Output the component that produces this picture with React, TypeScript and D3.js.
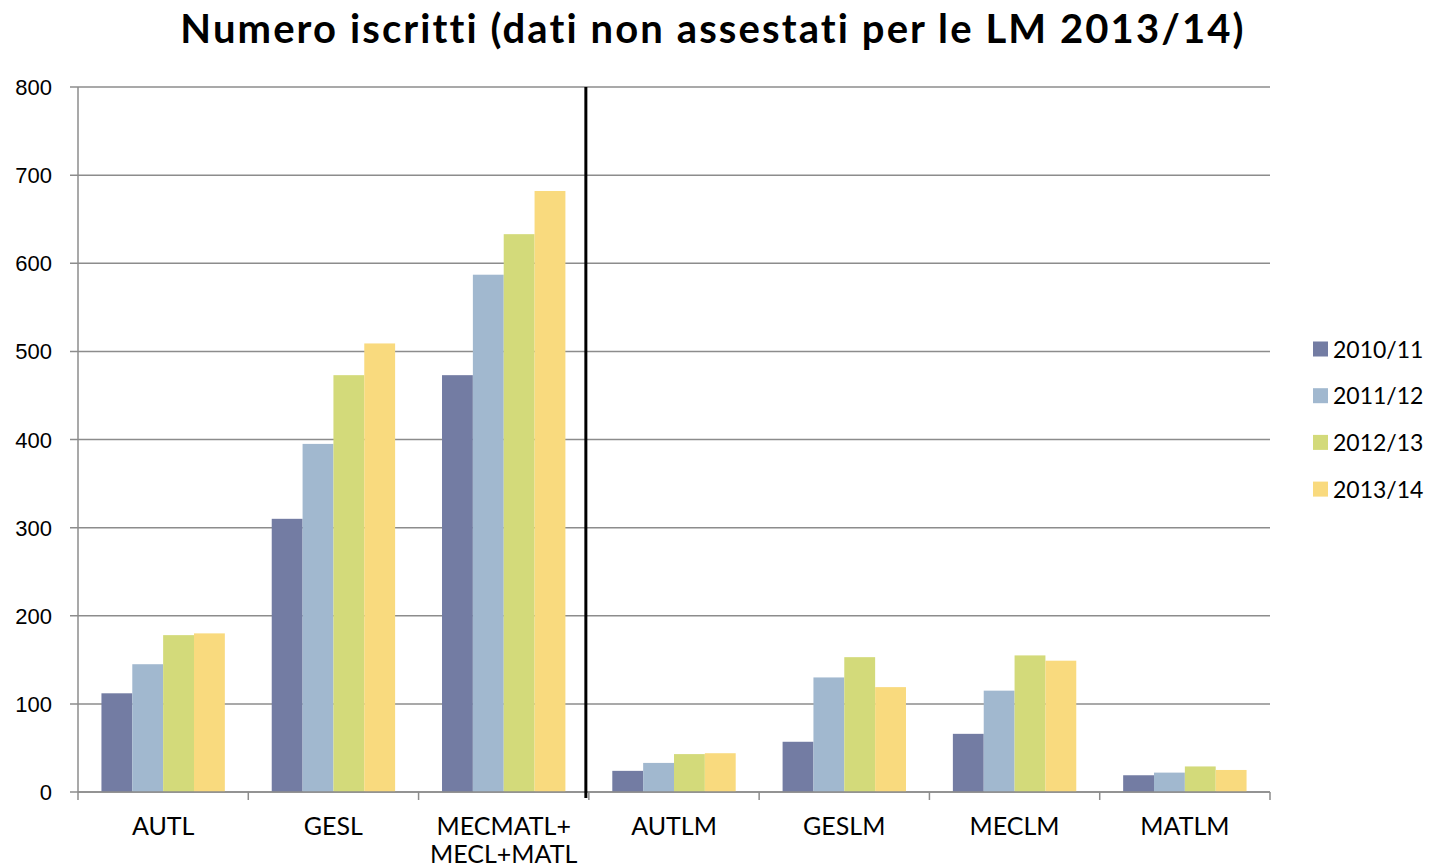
import React, { useEffect, useRef } from 'react';
import * as d3 from 'd3';

// categorie (corsi) e serie (anni accademici)
const categories = ['AUTL', 'GESL', 'MECMATL+\nMECL+MATL', 'AUTLM', 'GESLM', 'MECLM', 'MATLM'];
const years = ['2010/11', '2011/12', '2012/13', '2013/14'];
const colors = ['#737ca3', '#a1b8cf', '#d3da7a', '#f9da7e'];

const v2010 = [112, 310, 473, 24, 57, 66, 19];
const v2011 = [145, 395, 587, 33, 130, 115, 22];
const v2012 = [178, 473, 633, 43, 153, 155, 29];
const v2013 = [180, 509, 682, 44, 119, 149, 25];

const yTicks = [0, 100, 200, 300, 400, 500, 600, 700, 800];

const W = 1429;
const H = 868;
const margin = { top: 87, left: 78, right: 159, bottom: 76 };
const font = 'Lato, "Open Sans", sans-serif';

const App = () => {
    const svgRef = useRef<SVGSVGElement>(null);

    useEffect(() => {
        const svg = d3.select(svgRef.current);
        svg.selectAll('*').remove();

        const series = [v2010, v2011, v2012, v2013];
        const x0 = d3.scaleBand().domain(categories).range([margin.left, W - margin.right]).padding(0);
        const x1 = d3.scaleBand().domain(years).range([0, x0.bandwidth()]).paddingInner(0).paddingOuter(0.76);
        const y = d3.scaleLinear().domain([0, 800]).range([H - margin.bottom, margin.top]);

        // titolo
        svg.append('text')
            .attr('x', 713).attr('y', 43)
            .attr('text-anchor', 'middle')
            .style('font-family', font)
            .style('font-weight', 'bold')
            .style('font-size', '40px')
            .style('letter-spacing', '2.1px')
            .style('font-variant-ligatures', 'none')
            .text('Numero iscritti (dati non assestati per le LM 2013/14)');

        // griglia
        svg.append('g')
            .selectAll('line')
            .data(yTicks)
            .join('line')
            .attr('x1', margin.left - 8).attr('x2', W - margin.right)
            .attr('y1', d => y(d)).attr('y2', d => y(d))
            .attr('stroke', '#8c8c8c').attr('stroke-width', 1.5);

        // asse y
        svg.append('line')
            .attr('x1', margin.left).attr('x2', margin.left)
            .attr('y1', y(800)).attr('y2', y(0))
            .attr('stroke', '#8c8c8c').attr('stroke-width', 1.5);

        svg.append('g')
            .selectAll('text')
            .data(yTicks)
            .join('text')
            .attr('x', 52).attr('y', d => y(d) + 8)
            .attr('text-anchor', 'end')
            .style('font-family', '"Liberation Sans", Arial, sans-serif')
            .style('font-size', '22px')
            .text(d => d);

        // barre
        const groups = svg.append('g')
            .selectAll('g')
            .data(categories)
            .join('g')
            .attr('transform', d => `translate(${x0(d)},0)`);

        groups.selectAll('rect')
            .data((d, i) => years.map((yr, j) => ({ yr, v: series[j][i], c: colors[j] })))
            .join('rect')
            .attr('x', d => x1(d.yr)!)
            .attr('width', x1.bandwidth())
            .attr('y', d => y(d.v))
            .attr('height', d => y(0) - y(d.v))
            .attr('fill', d => d.c);

        // asse x
        svg.append('line')
            .attr('x1', margin.left).attr('x2', W - margin.right)
            .attr('y1', y(0)).attr('y2', y(0))
            .attr('stroke', '#8c8c8c').attr('stroke-width', 1.5);

        const bounds = categories.map(c => x0(c)!).concat([W - margin.right]);
        svg.append('g')
            .selectAll('line')
            .data(bounds)
            .join('line')
            .attr('x1', d => d).attr('x2', d => d)
            .attr('y1', y(0)).attr('y2', y(0) + 8)
            .attr('stroke', '#8c8c8c').attr('stroke-width', 1.5);

        const labels = svg.append('g')
            .selectAll('text')
            .data(categories)
            .join('text')
            .attr('text-anchor', 'middle')
            .style('font-family', font)
            .style('font-size', '25px');

        labels.selectAll('tspan')
            .data(d => d.split('\n').map(s => ({ s, c: d })))
            .join('tspan')
            .attr('x', d => x0(d.c)! + x0.bandwidth() / 2)
            .attr('y', (d, i) => y(0) + 43 + i * 28)
            .text(d => d.s);

        // separatore L / LM
        const sep = x0('AUTLM')! - 3;
        svg.append('line')
            .attr('x1', sep).attr('x2', sep)
            .attr('y1', y(800)).attr('y2', y(0) + 6)
            .attr('stroke', '#000').attr('stroke-width', 3);

        // legenda
        const leg = svg.append('g')
            .selectAll('g')
            .data(years)
            .join('g')
            .attr('transform', (d, i) => `translate(1313,${349 + i * 46.7})`);

        leg.append('rect')
            .attr('x', 0).attr('y', -7.5)
            .attr('width', 15).attr('height', 15)
            .attr('fill', (d, i) => colors[i]);

        leg.append('text')
            .attr('x', 20).attr('y', 8.5)
            .style('font-family', font)
            .style('font-size', '23px')
            .text(d => d);
    }, []);

    return <svg ref={svgRef} width={W} height={H} style={{ display: 'block', position: 'absolute', left: 0, top: 0, background: '#fff' }} />;
};

export default App;
